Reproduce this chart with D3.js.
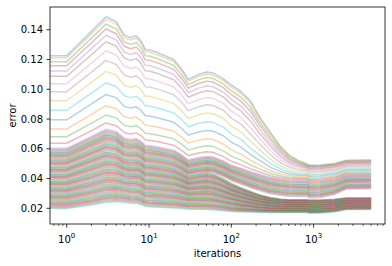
<!DOCTYPE html>
<html lang="en">
<head>
<meta charset="UTF-8">
<script src="https://cdn.jsdelivr.net/npm/d3@7"></script>
<style>
  html, body { margin: 0; padding: 0; background: #fff; }
  svg { display: block; font-family: "DejaVu Sans", sans-serif; }
</style>
</head>
<body>
<div id="chart"></div>
<script>
// iteration knots shared by every run
const iters = [1,2,3,4,5,6,7,8,9,10,13,20,25,30,40,50,60,80,100,
               130,170,220,300,400,500,650,850,880,1200,1800,2500,5000];

const earlyUpper = [0.1226,0.1390,0.1488,0.1454,0.1365,0.1347,0.1360,0.1324,0.1268,0.1266,
                    0.1245,0.1200,0.1135,0.1067,0.1100,0.1116,0.1110,0.1070,0.1030,
                    0.1030,0.1030,0.1030,0.1030,0.1030,0.1030,0.1030,0.1030,0.1030,0.1030,0.1030,0.1030,0.1030];
const earlyLower = [0.0198,0.0222,0.0240,0.0245,0.0240,0.0234,0.0232,0.0226,0.0212,0.0210,
                    0.0207,0.0202,0.0198,0.0194,0.0193,0.0192,0.0190,0.0185,0.0180,
                    0.0180,0.0180,0.0180,0.0180,0.0180,0.0180,0.0180,0.0180,0.0180,0.0180,0.0180,0.0180,0.0180];
// late part: share of the trough->end rise reached at each knot
const lateFrac = [0.15,0.15,0.15,0.15,0.15,0.15,0.15,0.15,0.15,0.15,0.15,0.15,0.15,0.15,0.15,0.15,
                  0.15,0.15,0.15,0.15,0.15,0.15,0.15,0.15,0.15,0.15,0.15,0,0.03,0.35,0.95,1];
// how much of the early level is left while the runs drop (100 -> 850 iterations)
const declineIters = [100,130,170,220,300,400,500,650,850];
const declineWeight = [1,0.92,0.8,0.6,0.4,0.22,0.12,0.05,0];

// one entry per run: value at iteration 1, lowest value near 900, final value
const startVals = [0.1226,0.1212,0.1185,0.1158,0.1123,0.1087,0.1037,0.0984,0.0923,0.0859,
                   0.0795,0.0733,0.0681,0.0637,0.0603,
                   0.0595,0.0590,0.0585,0.0580,0.0575,0.0571,0.0566,0.0561,0.0556,0.0551,
                   0.0546,0.0541,0.0536,0.0531,0.0526,0.0521,0.0516,0.0511,0.0506,0.0501,
                   0.0497,0.0492,0.0487,
                   0.0482,0.0477,0.0473,0.0468,0.0463,0.0459,0.0454,0.0449,0.0445,0.0440,
                   0.0435,0.0431,0.0426,0.0421,0.0417,0.0412,0.0407,0.0403,0.0398,0.0393,
                   0.0389,0.0384,0.0379,0.0375,0.0370,0.0365,0.0361,0.0356,0.0351,0.0347,
                   0.0342,0.0337,0.0333,0.0328,0.0323,0.0319,0.0314,0.0309,0.0305,0.0300,
                   0.0295,0.0291,0.0286,0.0281,0.0277,0.0272,0.0267,0.0263,0.0258,0.0253,
                   0.0249,0.0244,0.0239,0.0235,0.0230,0.0225,0.0221,0.0216,0.0211,0.0207,
                   0.0202,0.0198];
const troughVals = [0.0490,0.0486,0.0482,0.0476,0.0470,0.0463,0.0455,0.0446,0.0436,0.0426,
                    0.0416,0.0406,0.0397,0.0388,0.0380,
                    0.0373,0.0368,0.0364,0.0359,0.0355,0.0350,0.0345,0.0341,0.0336,0.0332,
                    0.0327,0.0322,0.0318,0.0313,0.0309,0.0304,0.0299,0.0295,0.0290,0.0286,
                    0.0281,0.0276,0.0271,
                    0.0256,0.0255,0.0253,0.0252,0.0250,0.0249,0.0247,0.0246,0.0244,0.0243,
                    0.0242,0.0240,0.0239,0.0237,0.0236,0.0234,0.0233,0.0231,0.0230,0.0229,
                    0.0227,0.0226,0.0224,0.0223,0.0221,0.0220,0.0218,0.0217,0.0215,0.0214,
                    0.0213,0.0211,0.0210,0.0208,0.0207,0.0205,0.0204,0.0202,0.0201,0.0200,
                    0.0198,0.0197,0.0195,0.0194,0.0192,0.0191,0.0189,0.0188,0.0186,0.0185,
                    0.0184,0.0182,0.0181,0.0179,0.0178,0.0176,0.0175,0.0173,0.0172,0.0171,
                    0.0169,0.0168];
const endVals = [0.0524,0.0521,0.0517,0.0512,0.0506,0.0500,0.0493,0.0485,0.0476,0.0467,
                 0.0458,0.0449,0.0441,0.0433,0.0426,
                 0.0420,0.0416,0.0412,0.0408,0.0404,0.0400,0.0396,0.0392,0.0388,0.0384,
                 0.0380,0.0376,0.0372,0.0368,0.0364,0.0360,0.0356,0.0352,0.0348,0.0344,
                 0.0340,0.0336,0.0332,
                 0.0271,0.0270,0.0268,0.0267,0.0266,0.0265,0.0263,0.0262,0.0261,0.0259,
                 0.0258,0.0257,0.0256,0.0254,0.0253,0.0252,0.0250,0.0249,0.0248,0.0247,
                 0.0245,0.0244,0.0243,0.0241,0.0240,0.0239,0.0238,0.0236,0.0235,0.0234,
                 0.0232,0.0231,0.0230,0.0229,0.0227,0.0226,0.0225,0.0223,0.0222,0.0221,
                 0.0220,0.0218,0.0217,0.0216,0.0214,0.0213,0.0212,0.0211,0.0209,0.0208,
                 0.0207,0.0205,0.0204,0.0203,0.0202,0.0200,0.0199,0.0198,0.0196,0.0195,
                 0.0194,0.0193];
const upperCount = 38;

const yTicks = [0.02,0.04,0.06,0.08,0.10,0.12,0.14];
const xTicks = [1,10,100,1000];

const width = 392, height = 266;
const margin = {left: 50, right: 7, top: 7, bottom: 42};

const svg = d3.select('#chart').append('svg').attr('width', width).attr('height', height);

const x = d3.scaleLog().domain([0.6267, 7371]).range([margin.left, width - margin.right]);
const y = d3.scaleLinear().domain([0.00945, 0.1553]).range([height - margin.bottom, margin.top]);

const weight = d3.scaleLog().domain(declineIters).range(declineWeight).clamp(true);
const upperShift = d3.scaleLinear().domain([0.0487, 0.1226]).range([1.6, 1.0]);
const lowShare = d3.scaleLinear().domain([0.0198, 0.045]).range([0, 1]).clamp(true);

let runs = startVals.map((s, i) => {
    let shift = i < upperCount ? upperShift(s) : 1.8;
    let a = i < upperCount ? 1 : lowShare(s);
    let pts = iters.map((it, k) => {
        let r = a * earlyUpper[k] / earlyUpper[0] + (1 - a) * earlyLower[k] / earlyLower[0];
        let w = weight(it * shift);
        let late = troughVals[i] + lateFrac[k] * (endVals[i] - troughVals[i]);
        return {it: it, v: w * s * r + (1 - w) * late};
    });
    // run starts at iteration 0, which sits off the left of the log axis
    pts.unshift({it: x.domain()[0], v: pts[0].v});
    return pts;
});

svg.append('clipPath').attr('id', 'plot-area')
    .append('rect')
    .attr('x', margin.left).attr('y', margin.top)
    .attr('width', width - margin.left - margin.right)
    .attr('height', height - margin.top - margin.bottom);

let line = d3.line().x(d => x(d.it)).y(d => y(d.v));

svg.append('g').attr('clip-path', 'url(#plot-area)')
    .selectAll('path')
    .data(runs)
    .join('path')
    .attr('d', line)
    .attr('fill', 'none')
    .attr('stroke', (d, i) => d3.schemeCategory10[i % 10])
    .attr('stroke-opacity', 0.33)
    .attr('stroke-width', 1.5)
    .attr('stroke-linejoin', 'round');

// y axis
let yAxis = svg.append('g');
yAxis.selectAll('line').data(yTicks).join('line')
    .attr('x1', margin.left - 3.5).attr('x2', margin.left)
    .attr('y1', d => y(d)).attr('y2', d => y(d))
    .attr('stroke', '#000').attr('stroke-width', 0.8);
yAxis.selectAll('text').data(yTicks).join('text')
    .attr('x', margin.left - 7).attr('y', d => y(d)).attr('dy', '0.36em')
    .attr('text-anchor', 'end').attr('font-size', 10).attr('fill', '#000')
    .text(d => d.toFixed(2));

// x axis, major and minor ticks
let minor = [];
for (let e = -1; e <= 3; e++) {
    for (let m = 2; m <= 9; m++) {
        let v = m * Math.pow(10, e);
        if (v > x.domain()[0] && v < x.domain()[1]) minor.push(v);
    }
}
let xAxis = svg.append('g');
let yb = height - margin.bottom;
xAxis.selectAll('line.minor').data(minor).join('line').attr('class', 'minor')
    .attr('x1', d => x(d)).attr('x2', d => x(d))
    .attr('y1', yb).attr('y2', yb + 2)
    .attr('stroke', '#000').attr('stroke-width', 0.6);
xAxis.selectAll('line.major').data(xTicks).join('line').attr('class', 'major')
    .attr('x1', d => x(d)).attr('x2', d => x(d))
    .attr('y1', yb).attr('y2', yb + 3.5)
    .attr('stroke', '#000').attr('stroke-width', 0.8);
let lbl = xAxis.selectAll('text').data(xTicks).join('text')
    .attr('x', d => x(d)).attr('y', yb + 18.5)
    .attr('text-anchor', 'middle').attr('font-size', 10).attr('fill', '#000');
lbl.append('tspan').text('10');
lbl.append('tspan').attr('dy', -4.5).attr('font-size', 7).text(d => Math.round(Math.log10(d)));

// frame
svg.append('rect')
    .attr('x', margin.left).attr('y', margin.top)
    .attr('width', width - margin.left - margin.right)
    .attr('height', height - margin.top - margin.bottom)
    .attr('fill', 'none').attr('stroke', '#000').attr('stroke-width', 0.8);

svg.append('text')
    .attr('x', (margin.left + width - margin.right) / 2).attr('y', 257)
    .attr('text-anchor', 'middle').attr('font-size', 10).attr('fill', '#000')
    .text('iterations');

svg.append('text')
    .attr('transform', `translate(15.5,${(margin.top + height - margin.bottom) / 2}) rotate(-90)`)
    .attr('text-anchor', 'middle').attr('font-size', 10).attr('fill', '#000')
    .text('error');
</script>
</body>
</html>
